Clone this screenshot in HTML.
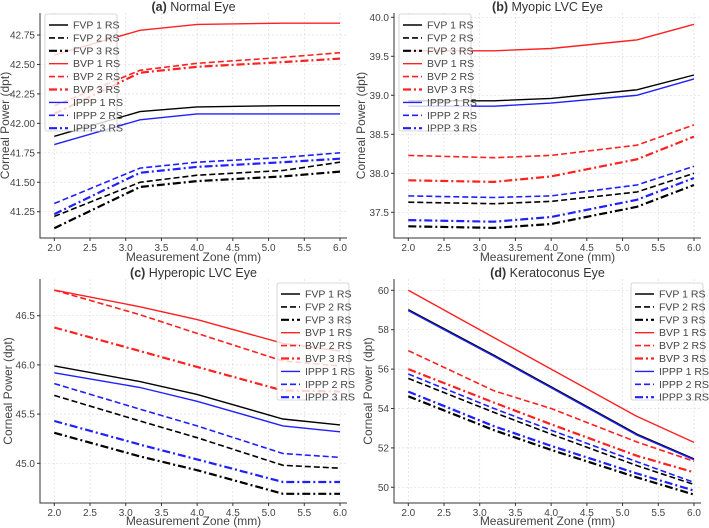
<!DOCTYPE html>
<html><head><meta charset="utf-8">
<style>
body{margin:0;background:#fff;}
svg{display:block;font-family:"Liberation Sans","DejaVu Sans",sans-serif;}
</style></head>
<body>
<svg id="fig" width="709" height="528" viewBox="0 0 709 528"></svg>
<script>
const xValues=[2.0,3.2,4.0,5.2,6.0];
const xTicks=[2.0,2.5,3.0,3.5,4.0,4.5,5.0,5.5,6.0];
const seriesNames=["FVP 1 RS","FVP 2 RS","FVP 3 RS","BVP 1 RS","BVP 2 RS","BVP 3 RS","IPPP 1 RS","IPPP 2 RS","IPPP 3 RS"];
const normalData=[
[41.89,42.10,42.14,42.15,42.15],
[41.21,41.50,41.56,41.60,41.67],
[41.11,41.46,41.51,41.55,41.59],
[42.58,42.79,42.84,42.85,42.85],
[42.15,42.45,42.51,42.56,42.60],
[42.08,42.43,42.48,42.52,42.55],
[41.82,42.03,42.08,42.08,42.08],
[41.32,41.62,41.67,41.71,41.75],
[41.23,41.58,41.63,41.67,41.70]];
const myopicData=[
[38.93,38.93,38.96,39.07,39.26],
[37.63,37.61,37.64,37.76,38.00],
[37.32,37.30,37.35,37.57,37.85],
[39.57,39.57,39.60,39.71,39.91],
[38.23,38.20,38.23,38.36,38.62],
[37.91,37.89,37.96,38.18,38.47],
[38.86,38.86,38.90,39.00,39.21],
[37.71,37.69,37.71,37.85,38.09],
[37.40,37.38,37.44,37.66,37.94]];
const hyperopicData=[
[45.99,45.83,45.70,45.45,45.39],
[45.69,45.43,45.26,44.98,44.95],
[45.31,45.07,44.93,44.69,44.69],
[46.76,46.59,46.46,46.22,46.14],
[46.76,46.51,46.32,46.04,45.99],
[46.38,46.14,45.98,45.74,45.73],
[45.92,45.77,45.63,45.38,45.32],
[45.81,45.55,45.38,45.10,45.06],
[45.43,45.19,45.04,44.81,44.81]];
const keratoconusData=[
[59.02,56.70,55.10,52.70,51.44],
[55.53,53.80,52.70,51.10,50.14],
[54.62,52.90,51.90,50.50,49.63],
[60.00,57.60,56.00,53.60,52.28],
[56.94,54.90,54.00,52.30,51.32],
[56.00,54.30,53.20,51.60,50.76],
[58.97,56.65,55.05,52.65,51.40],
[55.75,54.00,52.90,51.30,50.25],
[54.86,53.10,52.10,50.70,49.83]];
const normalTicks=[41.25,41.50,41.75,42.00,42.25,42.50,42.75];
const myopicTicks=[37.5,38.0,38.5,39.0,39.5,40.0];
const hyperopicTicks=[45.0,45.5,46.0,46.5];
const keratoconusTicks=[50,52,54,56,58,60];

const colors=["#000","#000","#000","#ff2020","#ff2020","#ff2020","#2020ff","#2020ff","#2020ff"];
const dashes=["", "6,3", "8,3,2,3","", "6,3", "8,3,2,3","", "6,3", "8,3,2,3"];
const widths=[1.4,1.6,2.2,1.4,1.6,2.2,1.4,1.6,2.2];
const NS="http://www.w3.org/2000/svg";
const svg=document.getElementById('fig');
function mk(tag,attrs,parent){const e=document.createElementNS(NS,tag);for(const k in attrs)e.setAttribute(k,attrs[k]);(parent||svg).appendChild(e);return e;}

function panel(cfg){
  const g=mk('g',{});
  
  
  const {L,R,T,B,x0px,x1px,y0v,y0px,y1v,y1px,ticks,dec,data,legend}=cfg;
  const xs=v=>x0px+(v-2)/(6-2)*(x1px-x0px);
  const ys=v=>y0px+(v-y0v)/(y1v-y0v)*(y1px-y0px);
  xTicks.forEach(t=>{const l=mk('line',{x1:xs(t),x2:xs(t),y1:T,y2:B,stroke:"#ddd","stroke-width":0.7,"stroke-dasharray":"2,2"},g);
    });
  ticks.forEach(t=>{const l=mk('line',{x1:L,x2:R,y1:ys(t),y2:ys(t),stroke:"#ddd","stroke-width":0.7,"stroke-dasharray":"2,2"},g);
    });
  const ax=mk('path',{d:`M${L},${T}V${B}H${R}`,fill:"none",stroke:"#333","stroke-width":1},g);
  
  xTicks.forEach(t=>{mk('line',{x1:xs(t),x2:xs(t),y1:B,y2:B+3,stroke:"#333"},g);
    const tx=mk('text',{x:xs(t),y:B+13,"font-size":10,fill:"#444","text-anchor":"middle"},g);tx.textContent=t.toFixed(1);
    });
  ticks.forEach(t=>{mk('line',{x1:L-3,x2:L,y1:ys(t),y2:ys(t),stroke:"#333"},g);
    const tx=mk('text',{x:L-5,y:ys(t)+3.5,"font-size":10,fill:"#444","text-anchor":"end"},g);tx.textContent=t.toFixed(dec);
    });
  const xl=mk('text',{x:(L+R)/2,y:B+cfg.xlo,"font-size":12,fill:"#444","text-anchor":"middle"},g);xl.textContent="Measurement Zone (mm)";
  
  const yc=(T+B)/2, yx=cfg.ylx;
  const yl=mk('text',{x:yx,y:yc,"font-size":12,fill:"#444","text-anchor":"middle",transform:`rotate(-90 ${yx} ${yc})`},g);yl.textContent="Corneal Power (dpt)";
  
  const ti=mk('text',{x:(L+R)/2,y:T-2,"font-size":12.5,fill:"#333","text-anchor":"middle"},g);
  ti.innerHTML=`<tspan font-weight="bold">${cfg.tag}</tspan> ${cfg.title}`;
  
  data.forEach((s,i)=>{
    const d=s.map((v,j)=>(j?"L":"M")+xs(xValues[j]).toFixed(1)+","+ys(v).toFixed(1)).join("");
    const p=mk('path',{d,fill:"none",stroke:colors[i],"stroke-width":widths[i],"stroke-dasharray":dashes[i]},g);
    
    
  });
  const lg=mk('g',{},g);
  
  mk('rect',{x:legend.x,y:legend.y,width:72,height:117,fill:"#fff","fill-opacity":0.8,stroke:"#ccc","stroke-width":0.8,rx:2},lg);
  seriesNames.forEach((n,i)=>{
    const yy=legend.y+11+i*12.9;
    const e=mk('g',{},lg);
    
    mk('line',{x1:legend.x+4,x2:legend.x+23,y1:yy,y2:yy,stroke:colors[i],"stroke-width":widths[i],"stroke-dasharray":dashes[i]},e);
    const t=mk('text',{x:legend.x+28,y:yy+3.5,"font-size":10.5,fill:"#444"},e);t.textContent=n;
  });
}
panel({name:'panel-normal-eye',tag:'(a)',title:'Normal Eye',L:40,R:347,T:13,B:238,x0px:54.3,x1px:340,y0v:42.75,y0px:35,y1v:41.25,y1px:211.7,ticks:normalTicks,dec:2,data:normalData,legend:{x:45,y:14},ylx:9,xlo:23});
panel({name:'panel-myopic-lvc-eye',tag:'(b)',title:'Myopic LVC Eye',L:394,R:701,T:13,B:238,x0px:408.3,x1px:694,y0v:40.0,y0px:17.3,y1v:37.5,y1px:212.3,ticks:myopicTicks,dec:1,data:myopicData,legend:{x:399,y:14},ylx:365,xlo:23});
panel({name:'panel-hyperopic-lvc-eye',tag:'(c)',title:'Hyperopic LVC Eye',L:40,R:347,T:279,B:503,x0px:54.3,x1px:340,y0v:46.5,y0px:315.7,y1v:45.0,y1px:463.3,ticks:hyperopicTicks,dec:1,data:hyperopicData,legend:{x:277,y:283},ylx:12,xlo:22});
panel({name:'panel-keratoconus-eye',tag:'(d)',title:'Keratoconus Eye',L:394,R:701,T:279,B:503,x0px:408.3,x1px:694,y0v:60,y0px:290.3,y1v:50,y1px:487.3,ticks:keratoconusTicks,dec:0,data:keratoconusData,legend:{x:631,y:283},ylx:372,xlo:22});
</script>
</body></html>
